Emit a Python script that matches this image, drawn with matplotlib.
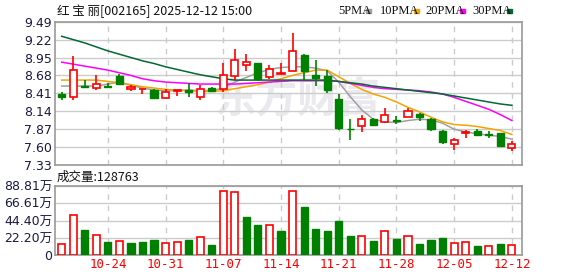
import numpy as np
from matplotlib import pyplot as plt

plt.rcParams['font.family'] = ['DejaVu Sans', 'Noto Sans CJK SC']

# daily K-line data, 2025-10-20 .. 2025-12-12
opens = [8.405, 8.355, 8.516, 8.496, 8.521, 8.667, 8.476, 8.471, 8.466, 8.345,
         8.44, 8.466, 8.355, 8.486, 8.471, 8.667, 8.833, 8.863, 8.657, 8.702,
         8.742, 8.984, 8.682, 8.667, 8.32, 7.877, 7.918, 8.028, 7.978, 8.003,
         8.06, 8.10, 8.025, 7.84, 7.64, 7.815, 7.85, 7.795, 7.815, 7.585]
closes = [8.355, 8.767, 8.50, 8.556, 8.506, 8.556, 8.506, 8.481, 8.34, 8.426,
          8.456, 8.426, 8.476, 8.451, 8.692, 8.918, 8.888, 8.622, 8.772, 8.722,
          9.054, 8.747, 8.642, 8.456, 7.888, 7.867, 8.028, 7.928, 8.084, 7.988,
          8.14, 8.05, 7.875, 7.675, 7.71, 7.825, 7.785, 7.785, 7.61, 7.645]
highs = [8.425, 8.969, 8.607, 8.692, 8.571, 8.697, 8.541, 8.481, 8.481, 8.476,
         8.456, 8.571, 8.531, 8.506, 8.873, 9.084, 8.999, 8.863, 8.843, 8.873,
         9.32, 9.009, 8.908, 8.757, 8.405, 8.028, 8.079, 8.044, 8.194, 8.064,
         8.185, 8.11, 8.04, 7.86, 7.74, 7.86, 7.875, 7.84, 7.815, 7.69]
lows = [8.315, 8.305, 8.50, 8.456, 8.506, 8.556, 8.451, 8.405, 8.34, 8.33,
        8.375, 8.355, 8.305, 8.44, 8.426, 8.617, 8.747, 8.602, 8.632, 8.702,
        8.742, 8.607, 8.521, 8.415, 7.862, 7.712, 7.827, 7.918, 7.963, 7.953,
        8.06, 8.0, 7.85, 7.64, 7.55, 7.735, 7.765, 7.735, 7.61, 7.535]
# volume in 万
volumes = [13.7, 51.0, 32.2, 25.3, 16.7, 17.6, 15.4, 16.7, 19.3, 15.0,
           16.3, 19.3, 22.7, 12.9, 81.9, 80.7, 48.9, 38.6, 38.2, 30.9,
           81.9, 61.8, 33.5, 30.9, 43.8, 24.5, 24.0, 18.0, 30.9, 20.6,
           24.0, 14.2, 19.3, 21.9, 15.0, 16.3, 11.6, 11.2, 14.2, 12.88]
vol_up = [1, 1, 0, 1, 0, 1, 0, 0, 0, 1,
          1, 0, 1, 0, 1, 1, 0, 0, 1, 0,
          1, 0, 0, 0, 0, 0, 1, 0, 1, 0,
          1, 0, 0, 0, 1, 1, 0, 1, 0, 1]
ma5 = [8.52, 8.52, 8.52, 8.52, 8.55, 8.58, 8.53, 8.49, 8.46, 8.45,
       8.45, 8.46, 8.45, 8.45, 8.49, 8.58, 8.65, 8.72, 8.77, 8.80,
       8.81, 8.81, 8.79, 8.75, 8.58, 8.36, 8.16, 8.02, 7.98, 7.97,
       8.00, 8.02, 8.01, 7.96, 7.87, 7.83, 7.80, 7.78, 7.76, 7.72]
ma10 = [8.61, 8.61, 8.61, 8.61, 8.59, 8.57, 8.54, 8.51, 8.49, 8.47,
        8.46, 8.45, 8.44, 8.44, 8.45, 8.48, 8.51, 8.54, 8.58, 8.63,
        8.68, 8.72, 8.76, 8.76, 8.66, 8.56, 8.47, 8.40, 8.35, 8.28,
        8.20, 8.13, 8.05, 7.98, 7.94, 7.93, 7.91, 7.88, 7.85, 7.79]
ma20 = [8.88, 8.85, 8.82, 8.79, 8.76, 8.72, 8.68, 8.63, 8.60, 8.58,
        8.57, 8.56, 8.55, 8.55, 8.55, 8.55, 8.56, 8.57, 8.58, 8.59,
        8.60, 8.60, 8.60, 8.60, 8.59, 8.56, 8.53, 8.50, 8.48, 8.47,
        8.46, 8.45, 8.43, 8.40, 8.35, 8.29, 8.23, 8.17, 8.09, 8.00]
ma30 = [9.27, 9.22, 9.17, 9.11, 9.05, 9.00, 8.95, 8.90, 8.86, 8.81,
        8.77, 8.73, 8.69, 8.66, 8.63, 8.61, 8.61, 8.61, 8.61, 8.61,
        8.61, 8.61, 8.61, 8.61, 8.59, 8.57, 8.55, 8.52, 8.50, 8.48,
        8.46, 8.44, 8.42, 8.40, 8.37, 8.34, 8.31, 8.28, 8.25, 8.23]
date_ticks = [4, 9, 14, 19, 24, 29, 34, 39]
date_labels = ['10-24', '10-31', '11-07', '11-14', '11-21', '11-28', '12-05', '12-12']
price_ticks = [7.33, 7.60, 7.87, 8.14, 8.41, 8.68, 8.95, 9.22, 9.49]
vol_ticks = [0, 22.20, 44.40, 66.61, 88.81]

RED = '#ff0000'
GREEN = '#008000'
FRAME = '#999999'
x = np.arange(len(closes))
w = 0.62

fig = plt.figure(figsize=(5.78, 2.76), dpi=100)
ax = fig.add_axes([55 / 578, 1 - 165 / 276, 467 / 578, 143.3 / 276])
axv = fig.add_axes([55 / 578, 1 - 255 / 276, 467 / 578, 69 / 276])

for a in (ax, axv):
    for s in a.spines.values():
        s.set_color(FRAME)
        s.set_linewidth(1.2)
    a.set_xlim(-0.58, 39.88)
    a.set_xticks(date_ticks)
    a.tick_params(length=0, labelsize=9, colors='#1a1a40', pad=2)
    a.grid(axis='y', color='#cccccc', linewidth=1, linestyle='-')
    a.grid(axis='x', color='#cccccc', linewidth=1, linestyle=(0, (4, 4)))
    a.set_axisbelow(True)

# watermark
ax.text(0.52, 0.46, '东方财富', transform=ax.transAxes, fontsize=30, color='#eaeaee',
        ha='center', va='center', family=['Noto Sans CJK SC'], fontweight='bold', zorder=0)

# candles
for i in x:
    o, c, h, l = opens[i], closes[i], highs[i], lows[i]
    up = c >= o
    col = RED if up else GREEN
    lo, hi = min(o, c), max(o, c)
    ax.vlines(i, hi, h, color=col, linewidth=1.2, zorder=3)
    ax.vlines(i, l, lo, color=col, linewidth=1.2, zorder=3)
    hgt = max(hi - lo, 0.006)
    if up:
        ax.bar(i, hgt, w, bottom=lo, facecolor='white', edgecolor=col, linewidth=1.2, zorder=4)
    else:
        ax.bar(i, hgt, w, bottom=lo, facecolor=col, edgecolor=col, linewidth=1.0, zorder=4)

ax.plot(x, ma5, color='#a0a0a0', linewidth=1.1, zorder=2)
ax.plot(x, ma10, color='#f5a300', linewidth=1.1, zorder=2)
ax.plot(x, ma20, color='#ff00ff', linewidth=1.1, zorder=2)
ax.plot(x, ma30, color='#006a30', linewidth=1.1, zorder=2)

ax.set_ylim(7.33, 9.49)
ax.set_yticks(price_ticks)
ax.set_yticklabels(['%.2f' % v for v in price_ticks])
ax.tick_params(axis='x', labelbottom=False)

# volume
for i in x:
    if vol_up[i]:
        axv.bar(i, volumes[i], w, facecolor='white', edgecolor=RED, linewidth=1.2, zorder=3)
    else:
        axv.bar(i, volumes[i], w, facecolor=GREEN, edgecolor=GREEN, linewidth=1.0, zorder=3)
axv.set_ylim(0, 88.81)
axv.set_yticks(vol_ticks)
axv.set_yticklabels(['0'] + ['%.2f万' % v for v in vol_ticks[1:]])
axv.set_xticklabels(date_labels, color=RED, family='DejaVu Sans Mono', fontsize=9)

# header texts
fig.text(57 / 578, 1 - 11 / 276, '红 宝 丽[002165] 2025-12-12 15:00', fontsize=9,
         family=['Noto Sans CJK SC'], va='center', ha='left', color='#111111')
fig.text(57 / 578, 1 - 177 / 276, '成交量:128763', fontsize=9,
         family=['Noto Sans CJK SC'], va='center', ha='left', color='#111111')

# legend: name, colour, text x, square x (pixels)
legend_items = [('5PMA', '#a0a0a0', 338, 366), ('10PMA', '#f5a300', 380, 414),
                ('20PMA', '#ff00ff', 425, 460), ('30PMA', '#006a30', 472, 507)]
for name, col, px, sx in legend_items:
    fig.text(px / 578, 1 - 11 / 276, name, fontsize=9, family='Liberation Serif',
             va='center', ha='left', color='#111111')
    fig.patches.append(plt.Rectangle((sx / 578, 1 - 13 / 276), 5 / 578, 4 / 276,
                                     transform=fig.transFigure, color=col, figure=fig))

fig.savefig('out.png', dpi=100)
